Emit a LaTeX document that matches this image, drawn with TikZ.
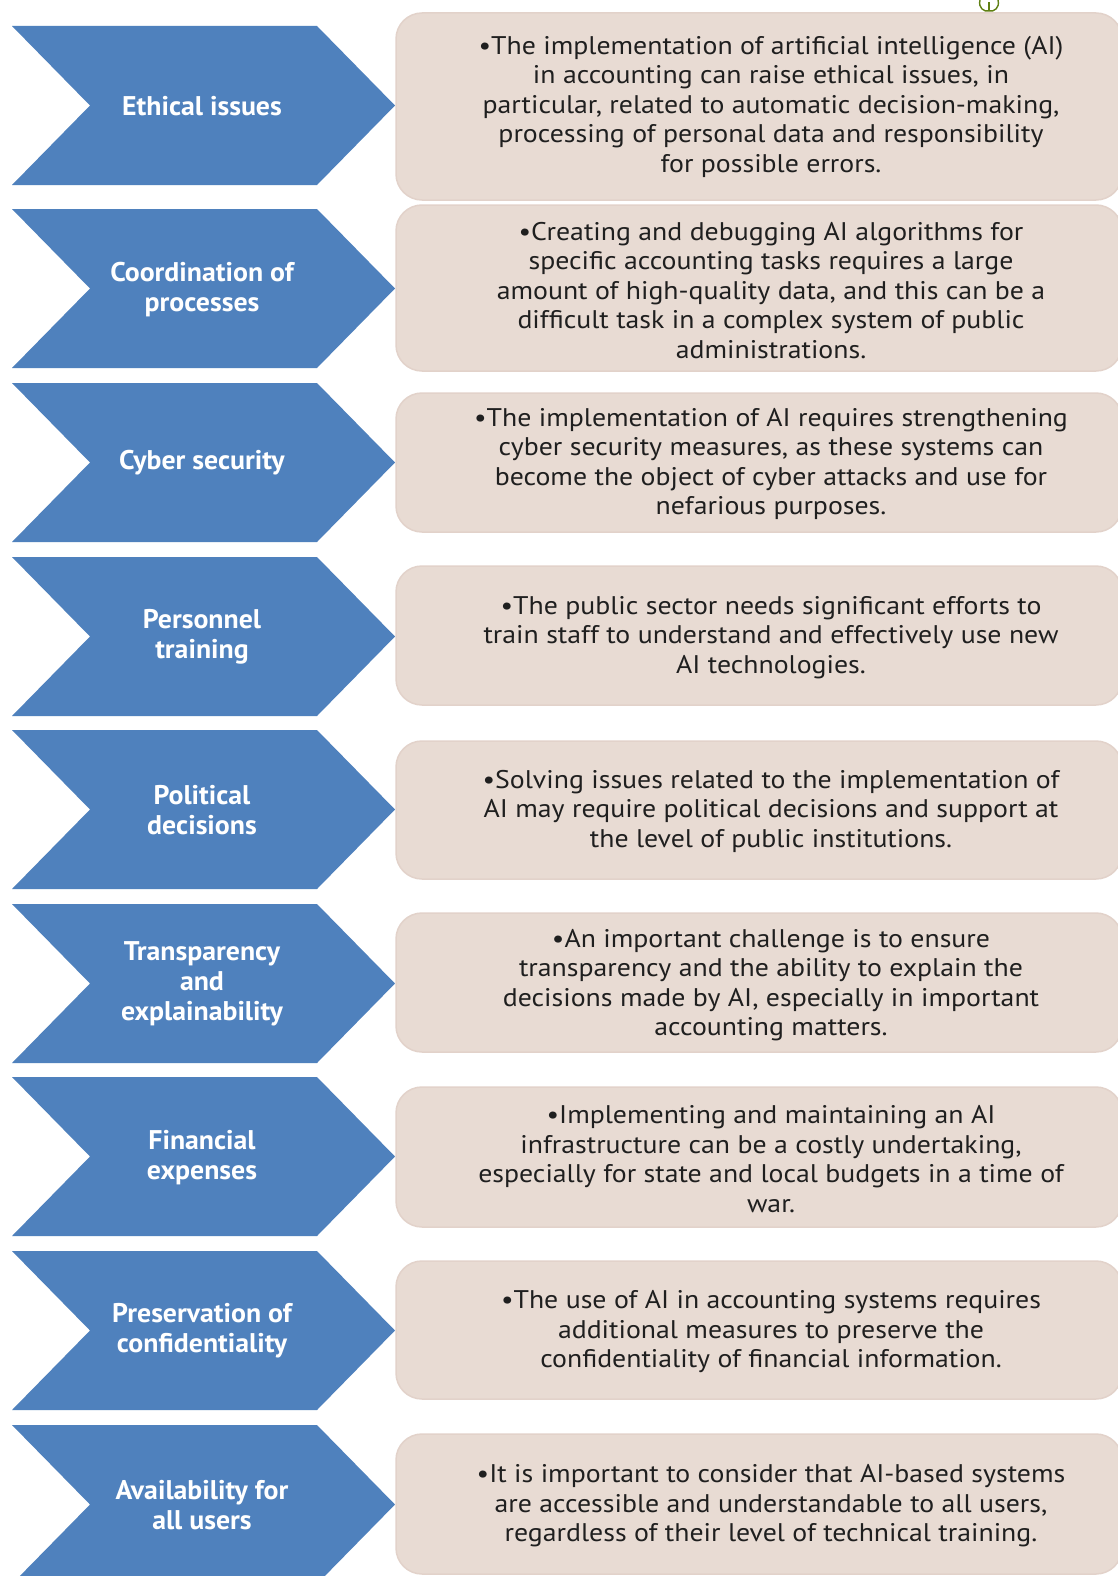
\documentclass[tikz,border=0pt]{standalone}
\usepackage{fontspec}
\setmainfont{PT Sans}
\newfontfamily\notefont[FakeStretch=1.09]{PT Sans}
\newfontfamily\chevfont[FakeStretch=1.03]{PT Sans}
\definecolor{chevblue}{RGB}{79,129,189}
\definecolor{notefill}{RGB}{232,219,211}
\definecolor{noteedge}{RGB}{226,210,202}
\definecolor{leafgreen}{RGB}{96,128,20}
\tikzset{
  chevron/.style={fill=chevblue},
  chevtext/.style={text=white, font=\chevfont\fontsize{27}{30}\selectfont\bfseries, align=center, inner sep=0pt},
  notebox/.style={draw=noteedge, line width=1.5pt, fill=notefill, rounded corners=26pt, minimum width=726pt, inner sep=0pt},
  notetext/.style={font=\notefont\fontsize{25.5}{29.5}\selectfont, align=center, text=black!88, inner sep=0pt},
  leaf/.style={draw=leafgreen, line width=1.4pt}
}
\begin{document}
\begin{tikzpicture}[x=1pt, y=-1pt]
\useasboundingbox (0,0) rectangle (1118,1576);
\fill[white] (0,0) rectangle (1118,1576);

% blue chevrons (top edge y, height 159)
\foreach \t in {26,209,383,557,730,904,1077,1251,1425}{
  \fill[chevron] (12,\t) -- (317,\t) -- (395,\t+79.5) -- (317,\t+159)
    -- (12,\t+159) -- (90,\t+79.5) -- cycle;
}

% rounded note boxes (top/bottom)
\foreach \tp/\bt [count=\i] in {13/200,205/371,393/532,566/705,741/879,913/1052,1087/1227,1261/1399,1434/1574}{
  \node[notebox, minimum height={(\bt-\tp)*1pt}] (box\i) at (759,{(\tp+\bt)/2}) {};
}

% small leaf ornament at the top edge
\draw[leaf] (980,0) .. controls (978,8) and (984,12) .. (989,11)
  .. controls (994,12) and (1000,8) .. (998,0);
\draw[leaf] (989,11) -- (989,2);

% chevron labels
\node[chevtext] (c1) at (202,106.5) {Ethical issues};
\node[chevtext] (c2) at (202,289.5) {Coordination of\\processes};
\node[chevtext] (c3) at (202,463) {Cyber security};
\node[chevtext] (c4) at (202,636.5) {Personnel\\training};
\node[chevtext] (c5) at (202,810) {Political\\decisions};
\node[chevtext] (c6) at (202,984) {Transparency\\and\\explainability};
\node[chevtext] (c7) at (202,1158) {Financial\\expenses};
\node[chevtext] (c8) at (202,1331) {Preservation of\\confidentiality};
\node[chevtext] (c9) at (202,1505) {Availability for\\all users};

% note texts
\node[notetext] (t1) at (771,106.5) {•The implementation of artificial intelligence (AI)\\in accounting can raise ethical issues, in\\particular, related to automatic decision-making,\\processing of personal data and responsibility\\for possible errors.};
\node[notetext] (t2) at (771,290.5) {•Creating and debugging AI algorithms for\\specific accounting tasks requires a large\\amount of high-quality data, and this can be a\\difficult task in a complex system of public\\administrations.};
\node[notetext] (t3) at (771,464) {•The implementation of AI requires strengthening\\cyber security measures, as these systems can\\become the object of cyber attacks and use for\\nefarious purposes.};
\node[notetext] (t4) at (771,637.5) {•The public sector needs significant efforts to\\train staff to understand and effectively use new\\AI technologies.};
\node[notetext] (t5) at (771,811) {•Solving issues related to the implementation of\\AI may require political decisions and support at\\the level of public institutions.};
\node[notetext] (t6) at (771,985) {•An important challenge is to ensure\\transparency and the ability to explain the\\decisions made by AI, especially in important\\accounting matters.};
\node[notetext] (t7) at (771,1159) {•Implementing and maintaining an AI\\infrastructure can be a costly undertaking,\\especially for state and local budgets in a time of\\war.};
\node[notetext] (t8) at (771,1332) {•The use of AI in accounting systems requires\\additional measures to preserve the\\confidentiality of financial information.};
\node[notetext] (t9) at (771,1506) {•It is important to consider that AI-based systems\\are accessible and understandable to all users,\\regardless of their level of technical training.};
\end{tikzpicture}
\end{document}
